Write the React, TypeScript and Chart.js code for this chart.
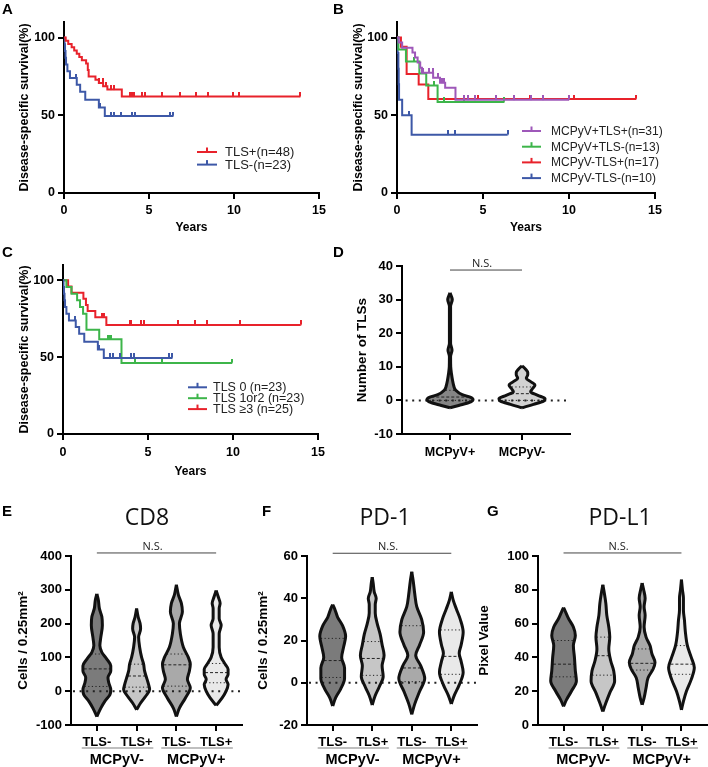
import React, { useEffect, useRef } from 'react';
import { Chart, registerables } from 'chart.js';
Chart.register(...registerables);

const SANS = "'Liberation Sans', Arial, Helvetica, sans-serif";
const OPEN = "'Open Sans', 'DejaVu Sans', sans-serif";

// ---------- Kaplan-Meier data (years, % survival) ----------
const kmYTicks = [0, 50, 100];

// Panel A
const aPosLabel = 'TLS+(n=48)';
const aPosTimes = [0.1, 0.25, 0.45, 0.6, 0.75, 0.9, 1.05, 1.3, 1.4, 1.45, 1.85, 2.05, 2.3, 2.55, 3.4];
const aPosSurv = [97.9, 95.8, 93.8, 91.7, 89.6, 87.5, 85.4, 83.3, 79.2, 75.0, 72.9, 70.8, 68.7, 66.5, 62.0];
const aPosEnd = 13.9;
const aPosCensor = [2.07, 2.27, 2.46, 2.75, 2.95, 3.91, 4.01, 4.11, 4.59, 4.79, 5.76, 6.82, 7.79, 8.47, 9.92, 10.31, 13.9];

const aNegLabel = 'TLS-(n=23)';
const aNegTimes = [0.03, 0.06, 0.09, 0.12, 0.2, 0.35, 0.75, 0.95, 1.25, 2.05, 2.4];
const aNegSurv = [95.7, 91.3, 87.0, 82.6, 78.3, 73.9, 69.6, 65.2, 60.0, 55.0, 49.5];
const aNegEnd = 6.43;
const aNegCensor = [0.72, 2.13, 2.75, 2.95, 3.33, 4.01, 4.17, 6.24, 6.43];

// Panel B
const bPPLabel = 'MCPyV+TLS+(n=31)';
const bPPTimes = [0.1, 0.3, 0.9, 1.05, 1.2, 1.35, 1.45, 2.1, 2.5, 2.8, 3.4];
const bPPSurv = [96.8, 93.5, 90.3, 87.1, 83.9, 80.6, 77.4, 74.2, 71.0, 67.7, 60.0];
const bPPEnd = 10.0;
const bPPCensor = [1.49, 1.88, 2.07, 2.36, 2.6, 2.71, 3.91, 4.1, 4.53, 5.76, 6.82, 7.79, 8.47, 10.0];

const bPNLabel = 'MCPyV+TLS-(n=13)';
const bPNTimes = [0.08, 0.52, 1.3, 1.7, 2.36];
const bPNSurv = [92.3, 84.6, 76.9, 69.2, 58.6];
const bPNEnd = 6.24;
const bPNCensor = [1.0, 2.13, 2.75, 3.91, 6.24];

const bNPLabel = 'MCPyV-TLS+(n=17)';
const bNPTimes = [0.23, 0.56, 1.26, 1.82];
const bNPSurv = [94.1, 76.5, 69.8, 60.4];
const bNPEnd = 13.9;
const bNPCensor = [3.91, 4.53, 4.73, 5.76, 7.73, 8.47, 10.3, 13.9];

const bNNLabel = 'MCPyV-TLS-(n=10)';
const bNNTimes = [0.04, 0.08, 0.1, 0.12, 0.3, 0.85];
const bNNSurv = [90, 80, 70, 60, 50, 37.5];
const bNNEnd = 6.43;
const bNNCensor = [0.72, 2.95, 3.39, 6.43];

// Panel C
const cLowLabel = 'TLS 0 (n=23)';
const cMidLabel = 'TLS 1or2 (n=23)';
const cMidTimes = [0.2, 0.5, 0.83, 1.0, 1.18, 1.38, 2.13, 3.44];
const cMidSurv = [95.7, 91.3, 87.0, 82.6, 78.3, 67.8, 61.6, 46.2];
const cMidEnd = 9.94;
const cMidCensor = [2.66, 2.76, 2.85, 4.23, 5.81, 9.94];

const cHighLabel = 'TLS \u22653 (n=25)';
const cHighTimes = [0.3, 0.5, 1.2, 1.35, 1.45, 1.9, 2.55];
const cHighSurv = [96, 92, 88, 84, 80, 76, 71];
const cHighEnd = 13.98;
const cHighCensor = [2.32, 2.4, 3.94, 4.0, 4.59, 4.78, 6.79, 7.78, 8.46, 10.39, 13.98];

// ---------- Violin data: [value, half-width in category units] ----------
const dCats = ['MCPyV+', 'MCPyV-'];
const dPos = [[-2.2, 0], [-1.5, 0.12], [-0.6, 0.27], [0.3, 0.32], [1, 0.28], [1.7, 0.17], [3, 0.08], [4.5, 0.05], [6, 0.035], [8, 0.02], [10, 0.01], [13, 0.008], [15, 0.028], [17, 0.008], [28, 0.008], [30, 0.032], [31.2, 0.015], [32, 0]];
const dNeg = [[-2.2, 0], [-1.2, 0.16], [-0.2, 0.3], [0.5, 0.32], [1.5, 0.22], [2.6, 0.12], [3.6, 0.15], [4.6, 0.18], [5.6, 0.12], [6.6, 0.06], [7.6, 0.08], [8.3, 0.08], [9.3, 0.05], [10.3, 0]];
const dPosStats = [0, 1, 3];
const dNegStats = [0, 2, 4];

const tlsCats = ['TLS-', 'TLS+', 'TLS-', 'TLS+'];
const groupLabels = ['MCPyV-', 'MCPyV+'];

const e1 = [[-75, 0], [-50, 0.1], [-30, 0.2], [-10, 0.33], [5, 0.35], [25, 0.3], [40, 0.28], [60, 0.35], [75, 0.35], [95, 0.25], [115, 0.126], [135, 0.076], [160, 0.1], [195, 0.139], [220, 0.126], [245, 0.063], [270, 0.038], [288, 0]];
const e2 = [[-55, 0], [-35, 0.1], [-15, 0.227], [5, 0.327], [20, 0.3], [40, 0.25], [60, 0.2], [80, 0.176], [100, 0.126], [130, 0.076], [160, 0.05], [185, 0.1], [200, 0.088], [220, 0.038], [245, 0]];
const e3 = [[-75, 0], [-50, 0.076], [-20, 0.227], [10, 0.35], [35, 0.277], [60, 0.327], [80, 0.35], [100, 0.3], [130, 0.176], [170, 0.1], [200, 0.076], [235, 0.151], [260, 0.126], [285, 0.05], [315, 0]];
const e4 = [[-42, 0], [-20, 0.151], [0, 0.25], [20, 0.3], [35, 0.25], [50, 0.3], [65, 0.3], [80, 0.227], [100, 0.126], [130, 0.076], [170, 0.076], [195, 0.126], [215, 0.076], [245, 0.076], [260, 0.1], [280, 0.05], [298, 0]];
const eStats = [[14, 66, 110], [12, 45, 80], [15, 78, 110], [25, 55, 82]];

const f1 = [[-11, 0], [-7, 0.076], [-3, 0.2], [2, 0.3], [7, 0.3], [12, 0.227], [17, 0.277], [22, 0.327], [27, 0.25], [31, 0.126], [35, 0.05], [37, 0]];
const f2 = [[-10.5, 0], [-6, 0.076], [-2, 0.176], [3, 0.277], [8, 0.25], [13, 0.3], [18, 0.25], [23, 0.2], [28, 0.126], [33, 0.076], [37, 0.076], [40, 0.1], [43, 0.05], [47, 0.025], [50, 0]];
const f3 = [[-15, 0], [-10, 0.076], [-4, 0.2], [2, 0.327], [8, 0.227], [13, 0.1], [18, 0.2], [24, 0.3], [30, 0.25], [36, 0.126], [42, 0.076], [48, 0.038], [52.5, 0]];
const f4 = [[-10, 0], [-6, 0.076], [-1, 0.2], [5, 0.3], [10, 0.25], [14, 0.2], [18, 0.25], [24, 0.3], [30, 0.227], [35, 0.126], [39, 0.05], [43, 0]];
const fStats = [[2.5, 10.5, 21], [3.5, 11.5, 19.5], [0.5, 7, 27], [4, 12.5, 25]];

const g1 = [[11, 0], [15, 0.076], [20, 0.2], [26, 0.327], [32, 0.3], [40, 0.277], [47, 0.25], [53, 0.3], [58, 0.25], [63, 0.126], [67, 0.05], [69.5, 0]];
const g2 = [[8, 0], [13, 0.076], [19, 0.176], [26, 0.3], [32, 0.277], [38, 0.2], [45, 0.151], [52, 0.176], [58, 0.151], [65, 0.1], [72, 0.076], [78, 0.038], [83, 0]];
const g3 = [[12, 0], [16, 0.05], [22, 0.1], [28, 0.151], [33, 0.277], [37, 0.327], [42, 0.25], [47, 0.2], [52, 0.1], [58, 0.05], [65, 0.076], [70, 0.05], [75, 0.076], [80, 0.038], [84, 0]];
const g4 = [[9, 0], [14, 0.05], [20, 0.126], [27, 0.25], [34, 0.327], [40, 0.25], [47, 0.151], [55, 0.1], [62, 0.076], [68, 0.05], [75, 0.05], [80, 0.025], [86, 0]];
const gStats = [[28.5, 36, 50], [29.5, 41, 52], [32.5, 36.5, 45], [30, 36, 47]];

// ---------- styles ----------
const RED = '#e8222b';
const BLUE = '#3d58a7';
const GREEN = '#3db54a';
const PURPLE = '#9e58b9';
const VIOLIN4 = ['#7b7b7b', '#c6c6c6', '#a9a9a9', '#e9e9e9'];
const VIOLIN2 = ['#858585', '#d2d2d2'];

function tickImage(color: string) {
  const c = document.createElement('canvas');
  c.width = 2;
  c.height = 9;
  const g = c.getContext('2d')!;
  g.fillStyle = color;
  g.fillRect(0, 0, 2, 4.5);
  return c;
}

function kmPoints(times: number[], surv: number[], end: number) {
  const pts = [{ x: 0, y: 100 }];
  for (let i = 0; i < times.length; i++) pts.push({ x: times[i], y: surv[i] });
  pts.push({ x: end, y: surv[surv.length - 1] });
  return pts;
}
function survAt(times: number[], surv: number[], t: number) {
  let v = 100;
  for (let i = 0; i < times.length; i++) if (times[i] <= t) v = surv[i];
  return v;
}
function widthAt(profile: number[][], y: number) {
  for (let i = 1; i < profile.length; i++) {
    const [y0, w0] = profile[i - 1];
    const [y1, w1] = profile[i];
    if (y >= y0 && y <= y1) return w0 + ((w1 - w0) * (y - y0)) / (y1 - y0);
  }
  return 0;
}

const bold = (size: number) => ({ family: SANS, size, weight: 'bold' as const });
const axisLook = () => ({
  grid: { display: true, drawOnChartArea: false, drawTicks: true, tickLength: 6, color: '#000', lineWidth: 2 },
  border: { display: true, color: '#000', width: 2 },
});

function kmConfig(o: any): any {
  const datasets: any[] = [];
  o.series.forEach((s: any) => {
    datasets.push({
      type: 'line', label: s.label, data: kmPoints(s.times, s.surv, s.end),
      borderColor: s.color, borderWidth: 2, stepped: true, pointRadius: 0, fill: false,
    });
    datasets.push({
      type: 'scatter', data: s.censor.map((t: number) => ({ x: t, y: survAt(s.times, s.surv, t) })),
      pointStyle: tickImage(s.color), pointRadius: 3, showLine: false,
    });
  });
  const plugin = {
    id: 'kmDecor' + o.letter.text,
    afterDraw(chart: any) {
      const ctx = chart.ctx;
      ctx.save();
      o.series.forEach((s: any, i: number) => {
        const y = o.legend.y0 + i * o.legend.dy;
        ctx.strokeStyle = s.color;
        ctx.lineWidth = 2;
        ctx.beginPath();
        ctx.moveTo(o.legend.x1, y);
        ctx.lineTo(o.legend.x2, y);
        ctx.stroke();
        ctx.fillStyle = s.color;
        ctx.fillRect((o.legend.x1 + o.legend.x2) / 2 - 1, y - 4.5, 2, 4.5);
        ctx.font = o.legend.font;
        ctx.textAlign = 'left';
        ctx.textBaseline = 'middle';
        ctx.fillStyle = '#222';
        ctx.fillText(s.label, o.legend.tx, y + 0.5);
      });
      ctx.font = `bold 15px ${SANS}`;
      ctx.fillStyle = '#000';
      ctx.textAlign = 'left';
      ctx.textBaseline = 'middle';
      ctx.fillText(o.letter.text, o.letter.x, o.letter.y);
      ctx.restore();
    },
  };
  return {
    type: 'line',
    data: { datasets },
    options: {
      animation: false, responsive: false, maintainAspectRatio: false,
      layout: { padding: { top: o.padTop, right: o.padRight, bottom: 0, left: 0 } },
      plugins: { legend: { display: false }, tooltip: { enabled: false } },
      scales: {
        x: {
          type: 'linear', min: 0, max: 15, ...axisLook(),
          ticks: { stepSize: 5, color: '#000', font: bold(12.5), padding: o.xTickPad, maxRotation: 0 },
          title: { display: true, text: 'Years', color: '#000', font: bold(12), padding: { top: 0, bottom: o.xTitlePad } },
          afterFit: (s: any) => { s.height = o.xAxisH; },
        },
        y: {
          type: 'linear', min: 0, max: 110, ...axisLook(),
          afterBuildTicks: (s: any) => { s.ticks = kmYTicks.map((v) => ({ value: v })); },
          ticks: { color: '#000', font: bold(12.5), padding: 3 },
          title: { display: true, text: 'Disease-specific survival(%)', color: '#000', font: bold(12.5), padding: { top: o.yTitlePad, bottom: 0 } },
          afterFit: (s: any) => { s.width = o.yAxisW; },
        },
      },
    },
    plugins: [plugin],
  };
}

function violinConfig(o: any): any {
  const datasets: any[] = [];
  const n = o.violins.length;
  o.violins.forEach((v: any, i: number) => {
    const c = i + 1;
    datasets.push({
      type: 'line', data: v.profile.map((p: number[]) => ({ x: c - p[1], y: p[0] })),
      borderColor: '#111', borderWidth: 3, pointRadius: 0, fill: false, cubicInterpolationMode: 'monotone',
    });
    datasets.push({
      type: 'line', data: v.profile.map((p: number[]) => ({ x: c + p[1], y: p[0] })),
      borderColor: '#111', borderWidth: 3, pointRadius: 0, fill: '-1', backgroundColor: v.color, cubicInterpolationMode: 'monotone',
    });
    const lines: [number, number[]][] = [[v.stats[0], [1.2, 2.4]], [v.stats[1], [3, 2]], [v.stats[2], [1.2, 2.4]]];
    lines.forEach(([yv, dash]) => {
      const w = Math.max(widthAt(v.profile, yv) - 0.02, 0);
      if (w <= 0) return;
      datasets.push({
        type: 'line', data: [{ x: c - w, y: yv }, { x: c + w, y: yv }],
        borderColor: '#222', borderWidth: 1, borderDash: dash, pointRadius: 0, fill: false,
      });
    });
  });
  if (o.zeroLine) {
    datasets.push({
      type: 'line', data: [{ x: o.xmin + 0.05, y: 0 }, { x: o.xmax, y: 0 }],
      borderColor: '#222', borderWidth: 2, borderDash: [2, 4.6], pointRadius: 0, fill: false,
    });
  }
  const plugin = {
    id: 'violinDecor' + o.letter.text,
    afterDraw(chart: any) {
      const ctx = chart.ctx;
      const xs = chart.scales.x;
      const ys = chart.scales.y;
      const area = chart.chartArea;
      ctx.save();
      const ny = ys.getPixelForValue(o.nsValue);
      const nx1 = xs.getPixelForValue(1);
      const nx2 = xs.getPixelForValue(n);
      ctx.strokeStyle = '#444';
      ctx.lineWidth = 1;
      ctx.beginPath();
      ctx.moveTo(nx1, ny);
      ctx.lineTo(nx2, ny);
      ctx.stroke();
      ctx.fillStyle = '#222';
      ctx.font = `11px ${OPEN}`;
      ctx.textAlign = 'center';
      ctx.textBaseline = 'bottom';
      ctx.fillText('N.S.', (nx1 + nx2) / 2 - 4, ny - 1);
      if (o.groups) {
        o.groups.forEach((g: string, gi: number) => {
          const a = xs.getPixelForValue(gi * 2 + 1 - 0.38);
          const b = xs.getPixelForValue(gi * 2 + 2 + 0.42);
          const ly = area.bottom + o.groupLineOff;
          ctx.strokeStyle = '#aaa';
          ctx.lineWidth = 1.5;
          ctx.beginPath();
          ctx.moveTo(a, ly);
          ctx.lineTo(b, ly);
          ctx.stroke();
          ctx.fillStyle = '#000';
          ctx.font = `bold 14.5px ${SANS}`;
          ctx.textAlign = 'center';
          ctx.textBaseline = 'middle';
          ctx.fillText(g, (xs.getPixelForValue(gi * 2 + 1) + xs.getPixelForValue(gi * 2 + 2)) / 2, area.bottom + o.groupTextOff);
        });
      }
      if (o.title) {
        ctx.fillStyle = '#111';
        ctx.font = `23px ${OPEN}`;
        ctx.textAlign = 'center';
        ctx.textBaseline = 'middle';
        ctx.fillText(o.title.text, o.title.x, o.title.y);
      }
      ctx.font = `bold 15px ${SANS}`;
      ctx.fillStyle = '#000';
      ctx.textAlign = 'left';
      ctx.textBaseline = 'middle';
      ctx.fillText(o.letter.text, o.letter.x, o.letter.y);
      ctx.restore();
    },
  };
  return {
    type: 'line',
    data: { datasets },
    options: {
      indexAxis: 'y',
      animation: false, responsive: false, maintainAspectRatio: false,
      layout: { padding: { top: o.padTop, right: o.padRight, bottom: 0, left: 0 } },
      plugins: { legend: { display: false }, tooltip: { enabled: false }, filler: { drawTime: 'beforeDatasetsDraw' } },
      scales: {
        x: {
          type: 'linear', min: o.xmin, max: o.xmax, ...axisLook(),
          afterBuildTicks: (s: any) => { s.ticks = o.cats.map((_: string, i: number) => ({ value: i + 1 })); },
          ticks: { color: '#000', font: bold(o.xTickFont), padding: o.xTickPad, maxRotation: 0, autoSkip: false, callback: (v: any) => o.cats[Math.round(v) - 1] ?? '' },
          afterFit: (s: any) => { s.height = o.xAxisH; },
        },
        y: {
          type: 'linear', min: o.ymin, max: o.ymax, ...axisLook(),
          ticks: { stepSize: o.ystep, color: '#000', font: bold(13), padding: 3 },
          title: { display: true, text: o.ytitle, color: '#000', font: bold(13.5), padding: { top: o.yTitlePad, bottom: 0 } },
          afterFit: (s: any) => { s.width = o.yAxisW; },
        },
      },
    },
    plugins: [plugin],
  };
}

const makeA = () => kmConfig({
  series: [
    { label: aPosLabel, color: RED, times: aPosTimes, surv: aPosSurv, end: aPosEnd, censor: aPosCensor },
    { label: aNegLabel, color: BLUE, times: aNegTimes, surv: aNegSurv, end: aNegEnd, censor: aNegCensor },
  ],
  padTop: 22, padRight: 7, yAxisW: 64, xAxisH: 47, xTickPad: 4, xTitlePad: 4.8, yTitlePad: 17.5,
  legend: { x1: 197, x2: 217, tx: 225, y0: 152, dy: 12.6, font: `13px ${SANS}` },
  letter: { text: 'A', x: 2, y: 10 },
});
const makeB = () => kmConfig({
  series: [
    { label: bPPLabel, color: PURPLE, times: bPPTimes, surv: bPPSurv, end: bPPEnd, censor: bPPCensor },
    { label: bPNLabel, color: GREEN, times: bPNTimes, surv: bPNSurv, end: bPNEnd, censor: bPNCensor },
    { label: bNPLabel, color: RED, times: bNPTimes, surv: bNPSurv, end: bNPEnd, censor: bNPCensor },
    { label: bNNLabel, color: BLUE, times: bNNTimes, surv: bNNSurv, end: bNNEnd, censor: bNNCensor },
  ],
  padTop: 22, padRight: 53, yAxisW: 67, xAxisH: 47, xTickPad: 4, xTitlePad: 4.8, yTitlePad: 21.5,
  legend: { x1: 192, x2: 211, tx: 221, y0: 131, dy: 15.7, font: `12px ${SANS}` },
  letter: { text: 'B', x: 3, y: 10 },
});
const makeC = () => kmConfig({
  series: [
    { label: cLowLabel, color: BLUE, times: aNegTimes, surv: aNegSurv, end: aNegEnd, censor: aNegCensor },
    { label: cMidLabel, color: GREEN, times: cMidTimes, surv: cMidSurv, end: cMidEnd, censor: cMidCensor },
    { label: cHighLabel, color: RED, times: cHighTimes, surv: cHighSurv, end: cHighEnd, censor: cHighCensor },
  ],
  padTop: 25, padRight: 11, yAxisW: 63, xAxisH: 46, xTickPad: 5, xTitlePad: 0.8, yTitlePad: 17.5,
  legend: { x1: 188, x2: 207, tx: 213, y0: 147.3, dy: 10.9, font: `12.5px ${SANS}` },
  letter: { text: 'C', x: 2, y: 13 },
});
const makeD = () => violinConfig({
  violins: [
    { profile: dPos, stats: dPosStats, color: VIOLIN2[0] },
    { profile: dNeg, stats: dNegStats, color: VIOLIN2[1] },
  ],
  cats: dCats, xmin: 1 / 3, xmax: 8 / 3, ymin: -10, ymax: 40, ystep: 10,
  ytitle: 'Number of TLSs', zeroLine: true, nsValue: 38.8,
  padTop: 26, padRight: 138, yAxisW: 72, xAxisH: 56, xTickPad: 5, xTickFont: 12.5, yTitlePad: 24,
  letter: { text: 'D', x: 3, y: 13 },
});
const ytCells = 'Cells / 0.25mm\u00b2';
const makeE = () => violinConfig({
  violins: [e1, e2, e3, e4].map((p, i) => ({ profile: p, stats: eStats[i], color: VIOLIN4[i] })),
  cats: tlsCats, groups: groupLabels, xmin: 0.35, xmax: 4.65, ymin: -100, ymax: 400, ystep: 100,
  ytitle: ytCells, zeroLine: true, nsValue: 409,
  padTop: 66, padRight: 8, yAxisW: 71, xAxisH: 42, xTickPad: 3.5, xTickFont: 13, yTitlePad: 15,
  groupLineOff: 23, groupTextOff: 35,
  title: { text: 'CD8', x: 147, y: 28 },
  letter: { text: 'E', x: 2, y: 22 },
});
const makeF = () => violinConfig({
  violins: [f1, f2, f3, f4].map((p, i) => ({ profile: p, stats: fStats[i], color: VIOLIN4[i] })),
  cats: tlsCats, groups: groupLabels, xmin: 0.35, xmax: 4.65, ymin: -20, ymax: 60, ystep: 20,
  ytitle: ytCells, zeroLine: true, nsValue: 61.3,
  padTop: 66, padRight: 3, yAxisW: 57, xAxisH: 42, xTickPad: 3.5, xTickFont: 13, yTitlePad: 4.9,
  groupLineOff: 23, groupTextOff: 35,
  title: { text: 'PD-1', x: 135, y: 28 },
  letter: { text: 'F', x: 12, y: 22 },
});
const makeG = () => violinConfig({
  violins: [g1, g2, g3, g4].map((p, i) => ({ profile: p, stats: gStats[i], color: VIOLIN4[i] })),
  cats: tlsCats, groups: groupLabels, xmin: 0.35, xmax: 4.65, ymin: 0, ymax: 100, ystep: 20,
  ytitle: 'Pixel Value', zeroLine: false, nsValue: 101.8,
  padTop: 66, padRight: 1, yAxisW: 63, xAxisH: 42, xTickPad: 3.5, xTickFont: 13, yTitlePad: 1,
  groupLineOff: 23, groupTextOff: 35,
  title: { text: 'PD-L1', x: 145, y: 28 },
  letter: { text: 'G', x: 12, y: 22 },
});

function Panel({ left, top, width, height, make }: any) {
  const ref = useRef<HTMLCanvasElement | null>(null);
  useEffect(() => {
    if (!ref.current) return;
    const chart = new Chart(ref.current, make());
    return () => chart.destroy();
  }, [make]);
  return <canvas ref={ref} width={width} height={height} style={{ position: 'absolute', left, top, width, height }} />;
}

export default function App() {
  return (
    <div style={{ position: 'absolute', left: 0, top: 0, width: 708, height: 767, background: '#fff', overflow: 'hidden' }}>
      <Panel left={0} top={0} width={330} height={240} make={makeA} />
      <Panel left={330} top={0} width={378} height={240} make={makeB} />
      <Panel left={0} top={240} width={330} height={240} make={makeC} />
      <Panel left={330} top={240} width={378} height={250} make={makeD} />
      <Panel left={0} top={490} width={250} height={277} make={makeE} />
      <Panel left={250} top={490} width={230} height={277} make={makeF} />
      <Panel left={475} top={490} width={233} height={277} make={makeG} />
    </div>
  );
}
